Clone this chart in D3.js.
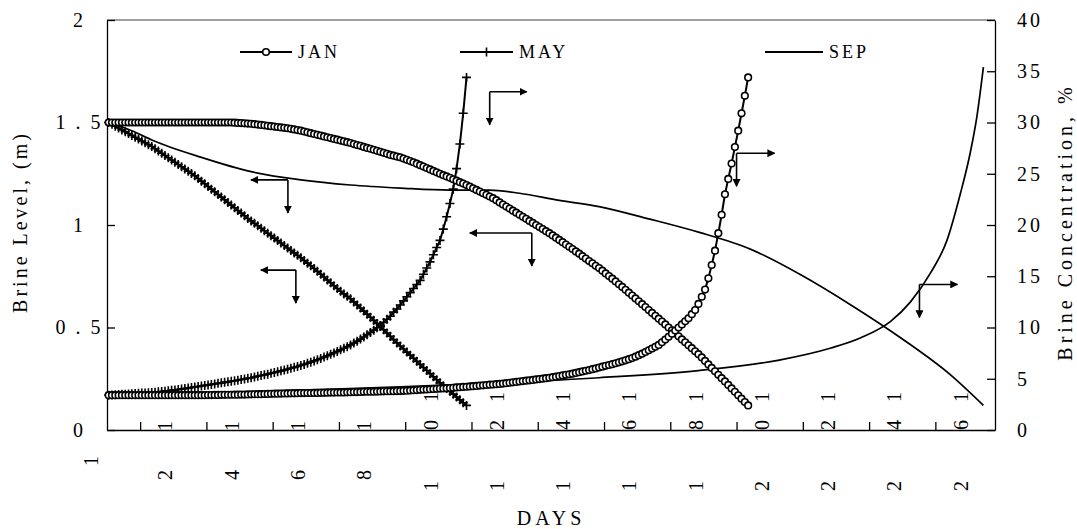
<!DOCTYPE html>
<html><head><meta charset="utf-8">
<script src="https://cdn.jsdelivr.net/npm/d3@7/dist/d3.min.js"></script>
<style>
html,body{margin:0;padding:0;background:#fff;}
svg{display:block;}
svg text{font-family:"Liberation Serif","Times New Roman",serif !important;fill:#000;}
</style></head><body>
<svg id="chart" width="1077" height="529"></svg>
<script>
// Brine level (m) and brine concentration (%) by day for three start months
const janLevel = [
1.5,1.5,1.5,1.5,1.5,1.5,1.5,1.5,1.5,1.5,1.5,1.5,1.5,1.5,1.5,1.5,1.5,1.5,1.5,1.5,
1.5,1.5,1.5,1.5,1.5,1.5,1.5,1.5,1.5,1.5,1.5,1.5,1.5,1.5,1.5,1.5,1.5,1.5,
1.499,1.498,1.497,1.496,1.495,1.494,1.492,1.490,1.488,1.486,1.484,1.482,1.480,1.478,1.476,1.474,1.472,1.469,1.466,1.463,1.460,
1.456,1.452,1.448,1.444,1.440,1.436,1.432,1.428,1.424,1.420,1.416,1.412,1.408,1.404,1.400,
1.395,1.390,1.386,1.381,1.376,1.372,1.367,1.362,1.357,1.352,1.347,1.342,1.338,1.334,1.330,
1.324,1.318,1.312,1.306,1.299,1.292,1.285,1.278,1.271,1.264,1.257,1.250,1.243,1.237,1.230,
1.223,1.216,1.209,1.202,1.195,1.187,1.179,1.171,1.163,1.155,1.147,1.139,1.131,1.121,1.110,
1.100,1.090,1.080,1.070,1.060,1.050,1.040,1.030,1.020,1.010,1.000,0.990,0.980,0.970,0.960,
0.949,0.938,0.927,0.916,0.905,0.894,0.883,0.871,0.860,0.848,0.836,0.824,0.813,0.801,0.790,
0.777,0.764,0.751,0.738,0.725,0.711,0.698,0.684,0.670,0.656,0.642,0.628,0.614,0.600,0.585,
0.571,0.557,0.543,0.529,0.515,0.500,0.486,0.471,0.457,0.442,0.428,0.413,0.399,0.384,0.370,
0.354,0.337,0.320,0.303,0.286,0.269,0.253,0.237,0.220,
0.203,0.186,0.169,0.153,0.136,0.120
];
const janConc = [
3.4,3.4,3.4,3.4,3.4,3.4,3.4,3.4,3.4,3.4,3.4,3.4,3.4,3.4,3.4,3.4,3.4,3.4,3.4,3.4,
3.4,3.4,3.4,3.4,3.4,3.4,3.4,3.4,3.4,3.4,
3.41,3.41,3.42,3.42,3.43,3.43,3.44,3.44,3.45,3.45,3.46,3.46,3.47,3.48,3.49,3.50,3.50,3.51,3.52,3.53,3.54,3.54,3.55,3.56,3.57,3.58,3.58,3.59,3.60,
3.60,3.61,3.61,3.62,3.62,3.63,3.63,3.64,3.65,3.65,3.66,3.67,3.67,3.68,3.69,3.70,3.70,3.71,3.72,3.73,3.74,3.74,3.75,3.76,3.77,3.78,3.78,3.79,3.80,3.80,
3.82,3.84,3.86,3.88,3.90,3.92,3.94,3.96,3.98,4.00,4.02,4.04,4.06,4.08,4.10,
4.12,4.15,4.17,4.20,4.22,4.25,4.28,4.30,4.33,4.36,4.39,4.42,4.44,4.47,4.50,
4.53,4.57,4.61,4.65,4.69,4.73,4.77,4.81,4.85,4.89,4.93,4.97,5.01,5.06,5.10,
5.15,5.20,5.26,5.32,5.38,5.44,5.50,5.57,5.64,5.71,5.78,5.85,5.93,6.01,6.10,
6.18,6.26,6.34,6.42,6.51,6.60,
6.70,6.80,6.91,7.02,7.15,7.30,
7.45,7.61,7.78,7.95,8.12,8.30,
8.55,8.82,9.10,9.40,9.70,10.0,
10.3,10.6,10.9,11.3,11.7,
12.3,13.0,13.7,
14.8,16.1,17.5,
19.2,21.0,23.0,
24.5,26.0,27.6,29.2,30.9,32.6,34.4
];
const mayLevel = [
1.500,1.491,1.482,1.473,1.464,1.455,1.446,1.437,1.428,1.419,1.410,1.401,1.392,1.383,
1.372,1.361,1.350,1.339,1.328,1.317,1.306,1.295,1.284,1.273,1.262,1.251,1.240,1.227,1.214,
1.201,1.188,1.175,1.162,1.149,1.136,1.123,1.110,1.097,1.084,1.071,1.058,1.045,1.032,1.020,
1.008,0.996,0.984,0.972,0.960,0.948,0.936,0.924,0.912,0.900,0.888,0.876,0.864,0.852,0.840,
0.827,0.814,0.801,0.788,0.774,0.760,0.746,0.732,0.718,0.704,0.690,0.677,0.664,0.652,0.640,
0.625,0.610,0.595,0.580,0.565,0.550,0.535,0.520,0.505,0.489,0.473,0.457,0.441,0.425,0.410,
0.395,0.380,0.365,0.350,0.335,0.320,0.305,0.290,0.275,0.260,0.245,0.230,
0.216,0.202,0.188,0.175,0.161,0.147,0.133,0.120
];
const mayConc = [
3.40,3.42,3.44,3.46,3.48,3.50,3.52,3.54,3.56,3.58,3.60,3.62,3.64,3.66,
3.69,3.72,3.75,3.79,3.83,3.87,3.91,3.95,3.99,4.04,4.09,4.14,4.19,4.24,4.30,
4.35,4.40,4.45,4.50,4.55,4.60,4.65,4.70,4.75,4.80,4.86,4.92,4.98,5.04,5.10,
5.17,5.24,5.31,5.38,5.45,5.53,5.61,5.69,5.77,5.85,5.93,6.02,6.11,6.20,6.30,
6.40,6.51,6.62,6.74,6.86,6.98,7.11,7.24,7.38,7.52,7.67,7.82,7.97,8.13,8.30,
8.48,8.67,8.87,9.08,9.30,9.52,9.74,9.97,10.2,
10.5,10.8,11.1,11.5,11.8,12.2,
12.6,13.0,13.4,13.8,14.2,14.6,
15.2,15.8,16.4,17.1,17.8,18.5,
19.6,20.8,22.1,23.5,
25.5,27.9,30.9,34.4
];
// September run, read at selected days
const sepLevelDays = [1,8,14,29,44,59,74,89,104,116,125,137,149,164,179,195,210,225,240,255,265];
const sepLevel     = [1.5,1.46,1.415,1.33,1.26,1.22,1.195,1.18,1.17,1.17,1.155,1.12,1.09,1.03,0.965,0.88,0.756,0.61,0.45,0.27,0.12];
const sepConcDays  = [1,30,59,89,119,149,179,203,219,228,237,243,249,254,258,261,263,265];
const sepConc      = [3.4,3.6,3.9,4.2,4.6,5.1,5.8,6.8,8.0,9.0,10.6,12.5,15.3,18.5,23,27,30.5,35.4];

const dayLabels = [1,21,41,61,81,101,121,141,161,181,201,221,241,261];
const levelTicks = [0,0.5,1,1.5,2];
const concTicks = [0,5,10,15,20,25,30,35,40];
const seriesNames = ["JAN","MAY","SEP"];

// Arrow callouts pointing each curve to its axis: corner at (day, value on that axis)
const callouts = [
  {day:55.1, value:1.22, axis:"level", len:37},
  {day:57.5, value:0.78, axis:"level", len:35},
  {day:128.7, value:0.961, axis:"level", len:62},
  {day:116, value:33.0, axis:"conc", len:37},
  {day:190.5, value:27.0, axis:"conc", len:38},
  {day:245.7, value:14.2, axis:"conc", len:38}
];

const svg = d3.select("#chart");
const X0 = 107, X1 = 995, Y0 = 430, Y1 = 20;
const nDays = 268;
const x = d3.scaleLinear().domain([0.5, nDays + 0.5]).range([X0, X1]);
const yL = d3.scaleLinear().domain([0, 2]).range([Y0, Y1]);
const yR = d3.scaleLinear().domain([0, 40]).range([Y0, Y1]);

svg.append("rect").attr("width",1077).attr("height",529).attr("fill","#fff");

// frame top edge
svg.append("line").attr("x1",X0).attr("x2",X1).attr("y1",Y1).attr("y2",Y1)
  .attr("stroke","#808080").attr("stroke-width",1.5);

const fixAxis = g => g.attr("font-family", null).attr("font-size", null);

// x axis ticks (between label groups)
const tickPos = d3.range(10.5, 260, 20);
svg.append("g").attr("transform",`translate(0,${Y0})`)
  .call(d3.axisBottom(x).tickValues(tickPos).tickSize(-8).tickSizeOuter(0).tickFormat(""))
  .call(fixAxis)
  .call(g => g.selectAll("path,line").attr("stroke","#000").attr("stroke-width",1.3));

// x axis labels: rotated to read upward, characters spread along the label
const charOffsets = {1:[31], 2:[45,-4], 3:[56,-5,-33]};   // distance below the axis per character
const labelShift = {1:-18, 2:-10, 3:-10};
const xLab = svg.append("g").attr("transform",`translate(0,${Y0})`)
  .call(d3.axisBottom(x).tickValues(dayLabels).tickSize(0).tickFormat(d => String(d)))
  .call(fixAxis);
xLab.select(".domain").remove();
xLab.selectAll(".tick text").each(function(d) {
  const t = d3.select(this);
  const s = String(d);
  const offs = charOffsets[s.length];
  t.text(null).attr("font-size",20).attr("text-anchor","middle")
    .attr("x",0).attr("y",0).attr("dy",null)
    .attr("transform",`translate(${labelShift[s.length]},0) rotate(-90)`);
  s.split("").forEach((ch, i) => {
    t.append("tspan").attr("x", -offs[i]).attr("y", 0).attr("dy","0.35em").text(ch);
  });
});

// left axis
const gl = svg.append("g").attr("transform",`translate(${X0},0)`)
  .call(d3.axisLeft(yL).tickValues(levelTicks).tickSize(-8).tickSizeOuter(0).tickFormat(d => String(d)))
  .call(fixAxis);
gl.selectAll("path,line").attr("stroke","#000").attr("stroke-width",1.3);
gl.selectAll(".tick text").attr("font-size",20)
  .attr("text-anchor","middle").attr("x",-29).style("letter-spacing","10px").attr("dx",5);

// right axis
const gr = svg.append("g").attr("transform",`translate(${X1},0)`)
  .call(d3.axisRight(yR).tickValues(concTicks).tickSize(-8).tickSizeOuter(0).tickFormat(d => String(d)))
  .call(fixAxis);
gr.selectAll("path,line").attr("stroke","#000").attr("stroke-width",1.3);
gr.selectAll(".tick text").attr("font-size",20)
  .attr("text-anchor","start").attr("x",22).style("letter-spacing","3px");

// axis titles
svg.append("text").attr("transform",`translate(27,222) rotate(-90)`).attr("text-anchor","middle")
  .attr("font-size",20).style("letter-spacing","3px").text("Brine Level, (m)");
svg.append("text").attr("transform",`translate(1072,222) rotate(-90)`).attr("text-anchor","middle")
  .attr("font-size",20).style("letter-spacing","4px").text("Brine Concentration, %");
svg.append("text").attr("x",551).attr("y",525).attr("text-anchor","middle")
  .attr("font-size",20).style("letter-spacing","4px").text("DAYS");

// series
const plot = svg.append("g");
const dayOf = (d,i) => x(i + 1);

// SEP
plot.append("path").datum(d3.zip(sepLevelDays, sepLevel))
  .attr("d", d3.line().curve(d3.curveMonotoneX).x(d => x(d[0])).y(d => yL(d[1])))
  .attr("fill","none").attr("stroke","#000").attr("stroke-width",1.7);
plot.append("path").datum(d3.zip(sepConcDays, sepConc))
  .attr("d", d3.line().curve(d3.curveMonotoneX).x(d => x(d[0])).y(d => yR(d[1])))
  .attr("fill","none").attr("stroke","#000").attr("stroke-width",1.7);

// MAY
const plusPath = "M-4.5,0H4.5M0,-4.5V4.5";
[[mayLevel, yL], [mayConc, yR]].forEach(([vals, ys]) => {
  plot.append("path").datum(vals).attr("d", d3.line().x(dayOf).y(d => ys(d)))
    .attr("fill","none").attr("stroke","#000").attr("stroke-width",2);
  plot.append("g").selectAll("path").data(vals).join("path")
    .attr("transform",(d,i) => `translate(${x(i+1)},${ys(d)})`)
    .attr("d", plusPath).attr("stroke","#000").attr("stroke-width",1.6);
});

// JAN
[[janLevel, yL], [janConc, yR]].forEach(([vals, ys]) => {
  plot.append("path").datum(vals).attr("d", d3.line().x(dayOf).y(d => ys(d)))
    .attr("fill","none").attr("stroke","#000").attr("stroke-width",2);
  plot.append("g").selectAll("circle").data(vals).join("circle")
    .attr("cx",(d,i) => x(i+1)).attr("cy", d => ys(d)).attr("r",3.3)
    .attr("fill","#fff").attr("stroke","#000").attr("stroke-width",1.6);
});

// arrowhead
svg.append("defs").append("marker").attr("id","ah").attr("viewBox","0 0 10 10")
  .attr("refX",9).attr("refY",5).attr("markerWidth",8).attr("markerHeight",8)
  .attr("markerUnits","userSpaceOnUse").attr("orient","auto")
  .append("path").attr("d","M0,0L10,5L0,10z").attr("fill","#000");

const drop = 33;
const cg = svg.append("g").attr("stroke","#000").attr("stroke-width",1.6).attr("fill","none");
callouts.forEach(c => {
  const px = x(c.day), py = c.axis === "level" ? yL(c.value) : yR(c.value);
  const dir = c.axis === "level" ? -1 : 1;
  cg.append("line").attr("x1",px).attr("y1",py).attr("x2",px + dir*c.len).attr("y2",py)
    .attr("marker-end","url(#ah)");
  cg.append("line").attr("x1",px).attr("y1",py).attr("x2",px).attr("y2",py + drop)
    .attr("marker-end","url(#ah)");
});

// legend
const leg = svg.append("g");
const legItems = [
  {name:seriesNames[0], x0:240, x1:292, mark:"circle"},
  {name:seriesNames[1], x0:460, x1:513, mark:"plus"},
  {name:seriesNames[2], x0:765, x1:823, mark:"none"}
];
const legY = 52;
legItems.forEach(it => {
  leg.append("line").attr("x1",it.x0).attr("x2",it.x1).attr("y1",legY).attr("y2",legY)
    .attr("stroke","#000").attr("stroke-width",2);
  const mx = (it.x0 + it.x1)/2;
  if (it.mark === "circle") leg.append("circle").attr("cx",mx).attr("cy",legY).attr("r",3.3)
    .attr("fill","#fff").attr("stroke","#000").attr("stroke-width",1.6);
  if (it.mark === "plus") leg.append("path").attr("transform",`translate(${mx},${legY})`)
    .attr("d",plusPath).attr("stroke","#000").attr("stroke-width",1.6);
  leg.append("text").attr("x",it.x1 + 6).attr("y",legY + 6).attr("font-size",18)
    .style("letter-spacing","3px").text(it.name);
});
</script>
</body></html>
